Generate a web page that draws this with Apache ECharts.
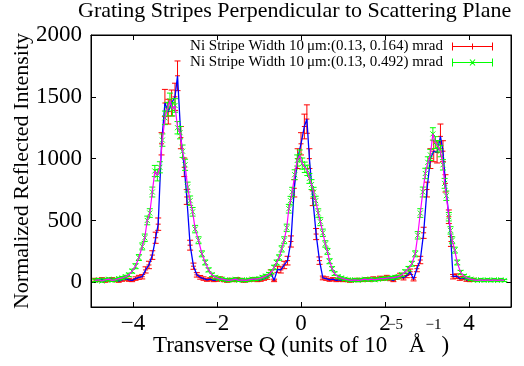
<!DOCTYPE html>
<html><head><meta charset="utf-8">
<script src="https://cdn.jsdelivr.net/npm/echarts@6/dist/echarts.min.js"></script>
<style>html,body{margin:0;padding:0;background:#fff}#c{width:524px;height:366px}</style>
</head><body><div id="c"></div>
<script>
const chartTitle = 'Grating Stripes Perpendicular to Scattering Plane';
const xTicks = [-4, -2, 0, 2, 4];
const yTicks = [0, 500, 1000, 1500, 2000];
const nameA = 'Ni Stripe Width 10\u2009\u03bcm:(0.13, 0.164) mrad';
const nameB = 'Ni Stripe Width 10\u2009\u03bcm:(0.13, 0.492) mrad';

// Series A (red error bars, blue line)
const qA = [-4.90,-4.82,-4.74,-4.66,-4.58,-4.50,-4.42,-4.34,-4.26,-4.18,
  -4.10,-4.02,-3.94,-3.86,-3.78,-3.70,-3.62,-3.54,-3.46,-3.40,
  -3.32,-3.24,-3.16,-3.08,-3.00,-2.94,-2.86,-2.78,-2.72,-2.64,
  -2.56,-2.48,-2.40,-2.32,-2.24,-2.16,-2.08,-2.00,-1.92,-1.84,
  -1.76,-1.68,-1.60,-1.52,-1.44,-1.36,-1.28,-1.20,-1.12,-1.04,
  -0.96,-0.88,-0.80,-0.72,-0.64,-0.56,-0.48,-0.40,-0.32,-0.24,
  -0.16,-0.08,0.00,0.08,0.14,0.20,0.28,0.36,0.44,0.52,
  0.60,0.68,0.76,0.84,0.92,1.00,1.08,1.16,1.24,1.32,
  1.40,1.48,1.56,1.64,1.72,1.80,1.88,1.96,2.04,2.12,
  2.20,2.28,2.36,2.44,2.52,2.60,2.68,2.76,2.84,2.92,
  3.00,3.08,3.16,3.24,3.32,3.38,3.44,3.52,3.57,3.62,
  3.70,3.78,3.86,3.94,4.02,4.10];
const iA = [20,15,25,10,20,25,15,10,20,30,
  20,15,30,40,45,100,140,220,360,470,
  1120,1450,1380,1450,1500,1670,1170,930,690,300,
  130,60,40,30,20,25,15,20,30,15,
  10,20,15,25,20,10,15,20,25,15,
  20,30,40,80,15,105,100,140,175,330,
  760,1000,1120,1260,1320,1000,680,390,175,35,
  30,20,25,15,20,15,20,10,15,20,
  15,20,25,20,30,25,35,30,40,25,
  15,40,55,35,55,85,25,110,180,400,
  750,1000,1060,1050,1180,1060,800,530,330,45,
  50,30,35,20,15,20];
const eA = [12,10,12,10,12,12,10,10,12,14,
  12,10,14,16,18,25,30,35,45,50,
  90,110,100,105,110,120,90,75,60,40,
  25,18,15,14,12,12,10,12,14,10,
  10,12,10,12,12,10,10,12,12,10,
  12,14,16,20,10,25,25,30,35,45,
  70,80,90,100,115,80,60,45,30,15,
  14,12,12,10,12,10,12,10,10,12,
  10,12,12,12,14,12,14,14,16,12,
  10,16,18,16,18,22,14,25,30,45,
  60,80,85,85,100,85,70,55,40,18,
  18,14,14,12,10,12];

// Series B (green error bars, magenta line)
const qB = [-4.90,-4.82,-4.74,-4.66,-4.58,-4.50,-4.42,-4.34,-4.26,-4.18,
  -4.10,-4.02,-3.94,-3.86,-3.78,-3.72,-3.66,-3.60,-3.54,-3.48,
  -3.42,-3.36,-3.30,-3.24,-3.18,-3.12,-3.06,-3.00,-2.94,-2.88,
  -2.82,-2.76,-2.70,-2.64,-2.58,-2.52,-2.44,-2.36,-2.28,-2.20,
  -2.12,-2.04,-1.96,-1.88,-1.80,-1.72,-1.64,-1.56,-1.48,-1.40,
  -1.32,-1.24,-1.16,-1.08,-1.00,-0.92,-0.84,-0.76,-0.70,-0.64,
  -0.58,-0.52,-0.46,-0.40,-0.34,-0.29,-0.25,-0.21,-0.15,-0.09,
  -0.03,0.03,0.09,0.15,0.20,0.25,0.30,0.35,0.41,0.46,
  0.52,0.58,0.63,0.68,0.74,0.80,0.88,0.96,1.04,1.12,
  1.20,1.28,1.36,1.44,1.52,1.60,1.68,1.76,1.84,1.92,
  2.00,2.08,2.16,2.24,2.32,2.40,2.48,2.56,2.64,2.72,
  2.78,2.84,2.90,2.96,3.02,3.08,3.14,3.20,3.26,3.32,
  3.38,3.42,3.46,3.52,3.56,3.60,3.66,3.72,3.80,3.88,
  3.96,4.04,4.12,4.20,4.28,4.36,4.44,4.52,4.60,4.68,
  4.76,4.84];
const iB = [15,20,10,20,25,15,20,30,35,45,
  60,90,130,200,290,360,500,560,730,900,
  865,930,1150,1330,1400,1470,1400,1430,1250,1210,
  1060,950,770,660,570,430,340,230,160,100,
  60,40,30,25,20,15,20,25,15,20,
  15,20,25,25,30,40,50,65,85,120,
  160,200,270,340,440,595,660,730,870,985,
  1025,960,930,905,840,790,730,660,560,490,
  400,310,250,170,110,70,45,35,25,20,
  15,20,15,20,25,20,25,20,25,30,
  30,35,35,40,45,60,85,110,150,230,
  380,560,730,880,970,1030,1200,1130,1100,1060,
  950,800,700,530,420,340,260,160,80,50,
  35,25,20,15,20,15,20,15,20,15,
  20,15];
const eB = [10,10,8,10,10,8,10,10,12,12,
  14,16,20,24,28,30,35,35,40,45,
  45,45,50,55,55,60,55,55,50,50,
  50,45,40,38,35,30,28,24,20,16,
  14,12,10,10,10,8,10,10,8,10,
  8,10,10,10,10,12,14,14,16,18,
  20,22,25,28,30,35,35,38,40,45,
  45,45,42,42,40,40,38,36,34,32,
  30,26,24,20,16,14,12,10,10,10,
  8,10,8,10,10,10,10,10,10,10,
  10,10,12,12,12,14,16,18,20,24,
  30,35,40,42,45,45,50,48,46,45,
  42,40,38,34,30,28,24,20,16,12,
  10,10,8,8,10,8,10,8,10,8,
  10,8];

const FONT = 'Liberation Serif';
const minus = v => (v < 0 ? '\u2212' + Math.abs(v) : String(v));
const plain = v => String(v);

function errRender(marker) {
  return function (params, api) {
    const x = api.value(0), y = api.value(1), e = api.value(2);
    const p = api.coord([x, y]);
    const lo = api.coord([x, y - e]);
    const hi = api.coord([x, y + e]);
    const c = 3, m = 2.5;
    const style = { stroke: api.visual('color'), lineWidth: 1, fill: null };
    const ch = [
      { type: 'line', shape: { x1: p[0], y1: lo[1], x2: p[0], y2: hi[1] }, style },
      { type: 'line', shape: { x1: p[0] - c, y1: lo[1], x2: p[0] + c, y2: lo[1] }, style },
      { type: 'line', shape: { x1: p[0] - c, y1: hi[1], x2: p[0] + c, y2: hi[1] }, style }
    ];
    if (marker === 'plus') {
      ch.push({ type: 'line', shape: { x1: p[0] - m, y1: p[1], x2: p[0] + m, y2: p[1] }, style });
    } else {
      ch.push({ type: 'line', shape: { x1: p[0] - m, y1: p[1] - m, x2: p[0] + m, y2: p[1] + m }, style });
      ch.push({ type: 'line', shape: { x1: p[0] - m, y1: p[1] + m, x2: p[0] + m, y2: p[1] - m }, style });
    }
    return { type: 'group', children: ch };
  };
}

const iconPlus = 'path://M0 3.5H41V4.5H0Z M0 0H1V8H0Z M40 0H41V8H40Z M20 1H21V7H20Z';
const iconCross = 'path://M0 3.5H41V4.5H0Z M0 0H1V8H0Z M40 0H41V8H40Z M17.6 1.2L18.4 0.8L23.4 6.8L22.6 7.2Z M22.6 0.8L23.4 1.2L18.4 7.2L17.6 6.8Z';

const chart = echarts.init(document.getElementById('c'), null, { renderer: 'canvas' });
const axisText = { fontFamily: FONT, fontSize: 23, color: '#000' };
const boxLine = { show: true, onZero: false, lineStyle: { color: '#000' } };
chart.setOption({
  animation: false,
  backgroundColor: '#fff',
  title: {
    text: chartTitle, left: 78, top: 0, padding: 0,
    textStyle: { fontFamily: FONT, fontSize: 22, fontWeight: 'normal', color: '#000' }
  },
  legend: {
    orient: 'vertical', right: 31, top: 39, align: 'right', padding: 0,
    itemWidth: 41, itemHeight: 8, itemGap: 1,
    textStyle: { fontFamily: FONT, fontSize: 15, color: '#000', lineHeight: 15, padding: [0, 4, 0, 0] },
    data: [
      { name: nameA, icon: iconPlus, itemStyle: { color: '#ff0000', borderColor: '#ff0000', borderWidth: 0, opacity: 1 } },
      { name: nameB, icon: iconCross, itemStyle: { color: '#00ff00', borderColor: '#00ff00', borderWidth: 0, opacity: 1 } }
    ]
  },
  grid: { left: 91, right: 13, top: 35, bottom: 59, show: true, borderColor: '#000', borderWidth: 1, outerBoundsMode: 'none', containLabel: false },
  xAxis: [{
    type: 'value', min: -5, max: 5, position: 'bottom',
    axisLine: boxLine,
    axisTick: { inside: true, length: 5, customValues: xTicks, lineStyle: { color: '#000' } },
    axisLabel: Object.assign({ customValues: xTicks, formatter: minus, margin: 5 }, axisText),
    splitLine: { show: false },
    name: '{m|Transverse Q (units of 10}{s|\u22125}{m| \u00c5}{s|\u22121}{m|)}',
    nameLocation: 'middle', nameGap: 11, nameMoveOverlap: false,
    nameTextStyle: {
      rich: {
        m: { fontFamily: FONT, fontSize: 23, color: '#000', lineHeight: 24, padding: [16, 0, 0, 0], verticalAlign: 'top' },
        s: { fontFamily: FONT, fontSize: 15, color: '#000', lineHeight: 15, verticalAlign: 'top' }
      }
    }
  }, {
    type: 'value', min: -5, max: 5, position: 'top',
    axisLine: boxLine,
    axisTick: { inside: true, length: 5, customValues: xTicks, lineStyle: { color: '#000' } },
    axisLabel: { show: false }, splitLine: { show: false }
  }],
  yAxis: [{
    type: 'value', min: -200, max: 2000, position: 'left',
    axisLine: boxLine,
    axisTick: { inside: true, length: 5, customValues: yTicks, lineStyle: { color: '#000' } },
    axisLabel: Object.assign({ customValues: yTicks, formatter: plain, margin: 9 }, axisText),
    splitLine: { show: false },
    name: 'Normalized Reflected Intensity', nameLocation: 'middle', nameGap: 58, nameMoveOverlap: false,
    nameTextStyle: { fontFamily: FONT, fontSize: 22, color: '#000' }
  }, {
    type: 'value', min: -200, max: 2000, position: 'right',
    axisLine: boxLine,
    axisTick: { inside: true, length: 5, customValues: yTicks, lineStyle: { color: '#000' } },
    axisLabel: { show: false }, splitLine: { show: false }
  }],
  series: [
    {
      name: nameA, type: 'custom', renderItem: errRender('plus'),
      itemStyle: { color: '#ff0000', borderColor: '#ff0000' }, encode: { x: 0, y: 1 },
      data: qA.map((q, k) => [q, iA[k], eA[k]]), z: 2
    },
    {
      name: 'lineA', type: 'line', showSymbol: false, symbol: 'none',
      lineStyle: { color: '#0000ff', width: 1.3 }, itemStyle: { color: '#0000ff' },
      data: qA.map((q, k) => [q, iA[k]]), z: 3
    },
    {
      name: nameB, type: 'custom', renderItem: errRender('cross'),
      itemStyle: { color: '#00ff00', borderColor: '#00ff00' }, encode: { x: 0, y: 1 },
      data: qB.map((q, k) => [q, iB[k], eB[k]]), z: 4
    },
    {
      name: 'lineB', type: 'line', showSymbol: false, symbol: 'none',
      lineStyle: { color: '#ff00ff', width: 1.2 }, itemStyle: { color: '#ff00ff' },
      data: qB.map((q, k) => [q, iB[k]]), z: 5
    }
  ]
});
</script>
</body></html>
